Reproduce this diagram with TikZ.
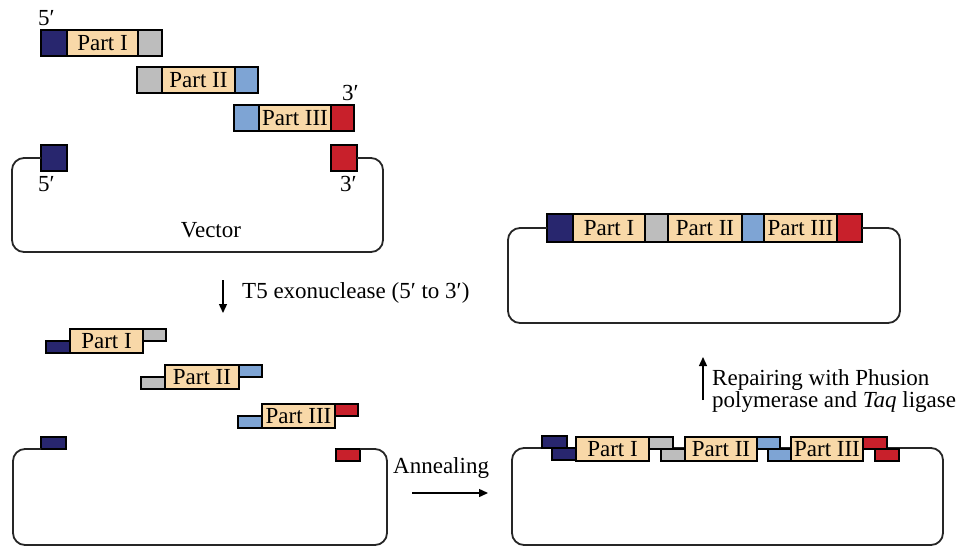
\documentclass[tikz,border=0pt]{standalone}
\usepackage{fontspec}
\setmainfont{Liberation Serif}
\usetikzlibrary{arrows.meta}
\definecolor{navyc}{HTML}{28266E}
\definecolor{partc}{HTML}{F8D8A8}
\definecolor{greyc}{HTML}{BDBDBD}
\definecolor{lbluec}{HTML}{7EA4D4}
\definecolor{redc}{HTML}{C8202B}
\tikzset{
  seg/.style={draw=black, line width=1.8pt, inner sep=0pt, outer sep=0pt, anchor=north west,
    font=\fontsize{23}{25}\selectfont},
  bx/.style 2 args={seg, minimum width=#1pt, minimum height=#2pt},
  navy/.style={fill=navyc},
  part/.style={fill=partc},
  grey/.style={fill=greyc},
  lblue/.style={fill=lbluec},
  red/.style={fill=redc},
  vec/.style={draw=black!85, line width=1.8pt, rounded corners=12pt},
  lbl/.style={inner sep=0pt, font=\fontsize{23}{25}\selectfont},
  arr/.style={line width=1.4pt, -{Triangle[length=9pt,width=8pt]}},
}
\begin{document}
\begin{tikzpicture}[x=1pt,y=-1pt]
\useasboundingbox (0,0) rectangle (959,547);
% ---------- top left: parts ----------
\node[bx={26}{26}, navy] (n1a) at (41,30) {};
\node[bx={71}{26}, part] (n1b) at (67,30) {Part I};
\node[bx={24}{26}, grey] (n1c) at (138,30) {};
\node[bx={25}{26}, grey] (n2a) at (137,67) {};
\node[bx={73}{26}, part] (n2b) at (162,67) {Part II};
\node[bx={23}{26}, lblue] (n2c) at (235,67) {};
\node[bx={25}{26}, lblue] (n3a) at (234,105) {};
\node[bx={72}{26}, part] (n3b) at (259,105) {Part III};
\node[bx={23}{26}, red] (n3c) at (331,105) {};
\node[lbl, anchor=base west] (l5a) at (38,25) {5′};
\node[lbl, anchor=base west] (l3a) at (342,100) {3′};
% ---------- top left: vector ----------
\node[bx={26}{26}, navy] (va) at (41,145) {};
\node[bx={26}{26}, red] (vb) at (331,145) {};
\draw[vec] (va.west) -- (12,158) -- (12,252) -- (383,252) -- (383,158) -- (vb.east);
\node[lbl, anchor=base west] (l5b) at (38,191) {5′};
\node[lbl, anchor=base west] (l3b) at (340,191) {3′};
\node[lbl, anchor=base] (lvec) at (211,237) {Vector};
% ---------- T5 arrow ----------
\coordinate (t5s) at (223,280);
\coordinate (t5e) at (223,313);
\draw[arr] (t5s) -- (t5e);
\node[lbl, anchor=base west] (lt5) at (242,298) {T5 exonuclease (5′ to 3′)};
% ---------- bottom left: chewed parts ----------
\node[bx={24}{12}, navy] (m1a) at (46,341) {};
\node[bx={73}{24}, part] (m1b) at (70,329) {Part I};
\node[bx={23}{12}, grey] (m1c) at (143,329) {};
\node[bx={24}{12}, grey] (m2a) at (141,377) {};
\node[bx={74}{24}, part] (m2b) at (165,365) {Part II};
\node[bx={23}{12}, lblue] (m2c) at (239,365) {};
\node[bx={24}{12}, lblue] (m3a) at (238,416) {};
\node[bx={73}{24}, part] (m3b) at (262,404) {Part III};
\node[bx={23}{12}, red] (m3c) at (335,404) {};
% ---------- bottom left: vector ----------
\node[bx={25}{12}, navy] (wa) at (41,437) {};
\node[bx={24}{12}, red] (wb) at (336,449) {};
\draw[vec] (wa.south west) -- (13,449) -- (13,545) -- (387,545) -- (387,449) -- (wb.north east);
% ---------- annealing arrow ----------
\node[lbl, anchor=base west] (lann) at (393,473) {Annealing};
\coordinate (ans) at (412,493);
\coordinate (ane) at (488,493);
\draw[arr] (ans) -- (ane);
% ---------- bottom right: annealed ----------
\draw[vec] (512,448) rectangle (943,545);
\node[bx={25}{12}, navy] (s1) at (542,436) {};
\node[bx={24}{12}, navy] (s2) at (552,448) {};
\node[bx={73}{24}, part] (s3) at (576,437) {Part I};
\node[bx={24}{12}, grey] (s4) at (649,437) {};
\node[bx={24}{12}, grey] (s5) at (661,449) {};
\node[bx={72}{24}, part] (s6) at (685,437) {Part II};
\node[bx={23}{12}, lblue] (s7) at (757,437) {};
\node[bx={23}{12}, lblue] (s8) at (768,449) {};
\node[bx={72}{24}, part] (s9) at (791,437) {Part III};
\node[bx={24}{12}, red] (s10) at (863,437) {};
\node[bx={24}{12}, red] (s11) at (875,449) {};
% ---------- repair arrow ----------
\coordinate (rps) at (703,400);
\coordinate (rpe) at (703,357);
\draw[arr] (rps) -- (rpe);
\node[lbl, anchor=base west] (lrep1) at (712,385) {Repairing with Phusion};
\node[lbl, anchor=base west] (lrep2) at (712,407) {polymerase and \textit{Taq} ligase};
% ---------- top right: final construct ----------
\node[bx={26}{28}, navy] (r1) at (547,214) {};
\node[bx={72}{28}, part] (r2) at (573,214) {Part I};
\node[bx={23}{28}, grey] (r3) at (645,214) {};
\node[bx={74}{28}, part] (r4) at (668,214) {Part II};
\node[bx={22}{28}, lblue] (r5) at (742,214) {};
\node[bx={73}{28}, part] (r6) at (764,214) {Part III};
\node[bx={25}{28}, red] (r7) at (837,214) {};
\draw[vec] (r1.west) -- (508,228) -- (508,323) -- (900,323) -- (900,228) -- (r7.east);
\end{tikzpicture}
\end{document}
